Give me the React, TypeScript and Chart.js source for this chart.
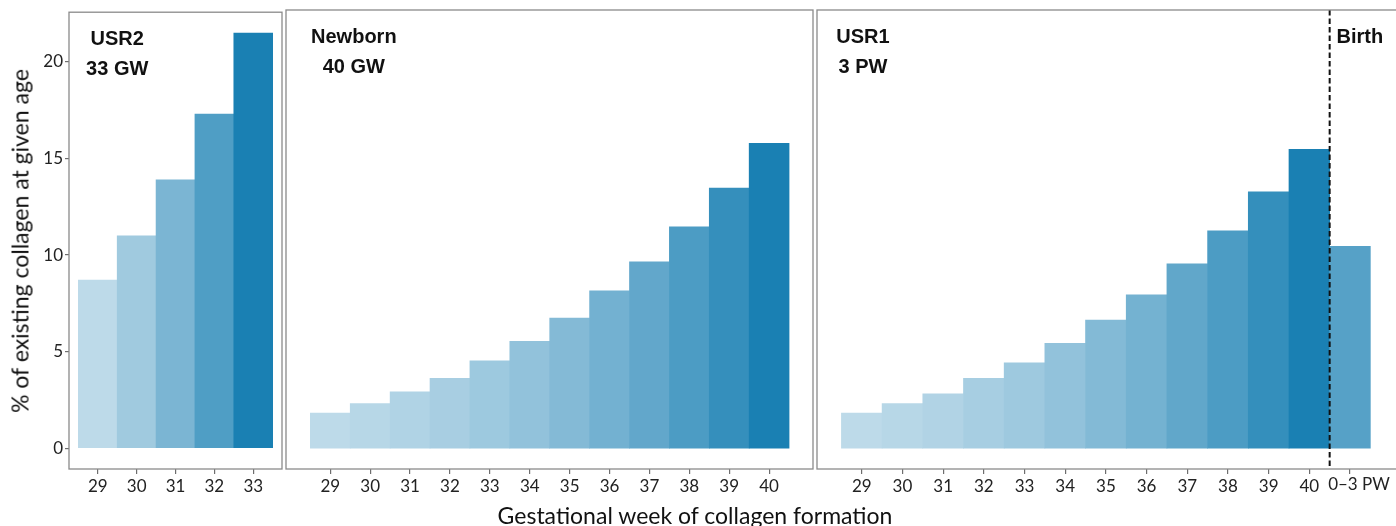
import React, { useEffect, useRef } from 'react';
import { Chart, registerables } from 'chart.js';

Chart.register(...registerables);

// ---- data ----
const usr2Weeks = [29, 30, 31, 32, 33];
const usr2Values = [8.7, 11.0, 13.9, 17.3, 21.5];
const usr2TickLabels = ['29', '30', '31', '32', '33'];

const newbornWeeks = [29, 30, 31, 32, 33, 34, 35, 36, 37, 38, 39, 40];
const newbornValues = [1.8, 2.3, 2.9, 3.6, 4.5, 5.5, 6.7, 8.1, 9.6, 11.4, 13.4, 15.7];
const newbornTickLabels = ['29', '30', '31', '32', '33', '34', '35', '36', '37', '38', '39', '40'];

const usr1Weeks = [29, 30, 31, 32, 33, 34, 35, 36, 37, 38, 39, 40, 41];
const usr1Values = [1.8, 2.3, 2.8, 3.6, 4.4, 5.4, 6.6, 7.9, 9.5, 11.2, 13.2, 15.4, 10.4];
const usr1TickLabels = ['29', '30', '31', '32', '33', '34', '35', '36', '37', '38', '39', '40', '0–3 PW'];

const yTicks = [0, 5, 10, 15, 20];
const birthPosition = 40.5;

const yTitle = '% of existing collagen at given age';
const xTitle = 'Gestational week of collagen formation';

// ---- styles ----
const LOW = [189, 218, 233];
const HIGH = [26, 128, 179];
const TICK_FONT = 'Lato, "Noto Sans", sans-serif';
const LABEL_FONT = '"Liberation Sans", Arial, sans-serif';
const H = 526;
const TICK_LEN = 5;
const TICK_PAD = 2;

function gradientColors(values: number[]) {
  const mn = Math.min(...values);
  const mx = Math.max(...values);
  return values.map((v) => {
    const t = (v - mn) / (mx - mn);
    const c = LOW.map((l, i) => Math.round(l + (HIGH[i] - l) * t));
    return `rgb(${c[0]},${c[1]},${c[2]})`;
  });
}

type Annotation = { x: number; lines: { y: number; text: string }[] };

type PanelDef = {
  weeks: number[];
  values: number[];
  tickLabels: string[];
  xMin: number;
  xMax: number;
  left: number;
  width: number;
  padLeft: number;
  padRight: number;
  showY: boolean;
  annotations: Annotation[];
  birthLine?: number;
  shiftedTick?: { index: number; dx: number };
};

const panels: PanelDef[] = [
  {
    weeks: usr2Weeks,
    values: usr2Values,
    tickLabels: usr2TickLabels,
    xMin: 28.26,
    xMax: 33.74,
    left: 0,
    width: 285,
    padLeft: 0,
    padRight: 3,
    showY: true,
    annotations: [
      { x: 29.5, lines: [{ y: 20.87, text: 'USR2' }, { y: 19.33, text: '33 GW' }] },
    ],
  },
  {
    weeks: newbornWeeks,
    values: newbornValues,
    tickLabels: newbornTickLabels,
    xMin: 27.89,
    xMax: 41.1,
    left: 284,
    width: 532,
    padLeft: 2,
    padRight: 3,
    showY: false,
    annotations: [
      { x: 29.59, lines: [{ y: 20.87, text: 'Newborn' }, { y: 19.33, text: '40 GW' }] },
    ],
  },
  {
    weeks: usr1Weeks,
    values: usr1Values,
    tickLabels: usr1TickLabels,
    xMin: 27.9,
    xMax: 42.155,
    left: 815,
    width: 584,
    padLeft: 2,
    padRight: 2,
    showY: false,
    annotations: [
      { x: 29.03, lines: [{ y: 20.87, text: 'USR1' }, { y: 19.33, text: '3 PW' }] },
      { x: 41.24, lines: [{ y: 20.87, text: 'Birth' }] },
    ],
    birthLine: birthPosition,
    shiftedTick: { index: 12, dx: 9 },
  },
];

function Panel({ def }: { def: PanelDef }) {
  const ref = useRef<HTMLCanvasElement | null>(null);

  useEffect(() => {
    if (!ref.current) return;
    const colors = gradientColors(def.values);
    const overlay = {
      id: 'overlay',
      afterDraw(chart: any) {
        const { ctx, chartArea, scales } = chart;
        const xs = scales.x;
        const ys = scales.y;
        ctx.save();
        if (def.birthLine !== undefined) {
          const px = xs.getPixelForValue(def.birthLine);
          ctx.strokeStyle = '#111';
          ctx.lineWidth = 2;
          ctx.setLineDash([5.5, 3]);
          ctx.beginPath();
          ctx.moveTo(px, chartArea.top);
          ctx.lineTo(px, chartArea.bottom);
          ctx.stroke();
          ctx.setLineDash([]);
        }
        ctx.strokeStyle = '#8a8a8a';
        ctx.lineWidth = 1.3;
        ctx.strokeRect(
          chartArea.left,
          chartArea.top,
          chartArea.right - chartArea.left,
          chartArea.bottom - chartArea.top
        );
        ctx.fillStyle = '#111';
        ctx.font = `bold 20px ${LABEL_FONT}`;
        ctx.textAlign = 'center';
        ctx.textBaseline = 'alphabetic';
        def.annotations.forEach((a) => {
          a.lines.forEach((l) => {
            ctx.fillText(l.text, xs.getPixelForValue(a.x), ys.getPixelForValue(l.y));
          });
        });
        if (def.shiftedTick) {
          const { index, dx } = def.shiftedTick;
          ctx.fillStyle = '#222';
          ctx.font = `17px ${TICK_FONT}`;
          ctx.textAlign = 'center';
          ctx.textBaseline = 'top';
          ctx.fillText(
            def.tickLabels[index],
            xs.getPixelForValue(def.weeks[index]) + dx,
            xs.top + TICK_LEN + TICK_PAD
          );
        }
        ctx.restore();
      },
    };

    const chart = new Chart(ref.current, {
      type: 'bar',
      data: {
        datasets: [
          {
            data: def.weeks.map((w, i) => ({ x: w, y: def.values[i] })),
            backgroundColor: colors,
            borderWidth: 0,
            barPercentage: 1,
            categoryPercentage: 1,
          },
        ],
      },
      options: {
        responsive: false,
        animation: false,
        layout: { padding: { top: 10, bottom: 0, left: def.padLeft, right: def.padRight } },
        plugins: { legend: { display: false }, tooltip: { enabled: false } },
        scales: {
          x: {
            type: 'linear',
            offset: false,
            min: def.xMin,
            max: def.xMax,
            afterBuildTicks: (scale: any) => {
              scale.ticks = def.weeks.map((w) => ({ value: w }));
            },
            afterFit: (scale: any) => {
              scale.height = 57;
            },
            ticks: {
              autoSkip: false,
              maxRotation: 0,
              padding: TICK_PAD,
              color: '#222',
              font: { family: TICK_FONT, size: 17 },
              callback: (v: any) => {
                const idx = def.weeks.indexOf(Number(v));
                if (idx < 0) return '';
                if (def.shiftedTick && def.shiftedTick.index === idx) return '';
                return def.tickLabels[idx];
              },
            },
            grid: {
              display: true,
              offset: false,
              drawOnChartArea: false,
              drawTicks: true,
              tickLength: TICK_LEN,
              color: '#6e6e6e',
              lineWidth: 1.2,
            },
            border: { display: false },
          },
          y: {
            type: 'linear',
            display: def.showY,
            min: -1.075,
            max: 22.575,
            afterBuildTicks: (scale: any) => {
              scale.ticks = yTicks.map((v) => ({ value: v }));
            },
            afterFit: (scale: any) => {
              if (def.showY) scale.width = 69;
            },
            ticks: {
              padding: 2,
              color: '#222',
              font: { family: TICK_FONT, size: 17 },
            },
            grid: {
              display: true,
              drawOnChartArea: false,
              drawTicks: true,
              tickLength: 4,
              color: '#6e6e6e',
              lineWidth: 1.2,
            },
            border: { display: false },
          },
        },
      },
      plugins: [overlay],
    } as any);
    return () => chart.destroy();
  }, [def]);

  return (
    <canvas
      ref={ref}
      width={def.width}
      height={H}
      style={{ position: 'absolute', left: def.left, top: 0, width: def.width, height: H }}
    />
  );
}

export default function App() {
  return (
    <div
      style={{
        position: 'fixed',
        left: 0,
        top: 0,
        width: 1396,
        height: H,
        overflow: 'hidden',
        background: '#fff',
      }}
    >
      {panels.map((p, i) => (
        <Panel key={i} def={p} />
      ))}
      <div
        style={{
          position: 'absolute',
          left: 20.1,
          top: 240.5,
          transform: 'translate(-50%, -50%) rotate(-90deg)',
          whiteSpace: 'nowrap',
          fontFamily: TICK_FONT,
          fontSize: 23,
          lineHeight: 1,
          color: '#111',
        }}
      >
        {yTitle}
      </div>
      <div
        style={{
          position: 'absolute',
          left: 695,
          top: 503.5,
          transform: 'translateX(-50%)',
          whiteSpace: 'nowrap',
          fontFamily: TICK_FONT,
          fontSize: 23,
          lineHeight: 1,
          color: '#111',
        }}
      >
        {xTitle}
      </div>
    </div>
  );
}
